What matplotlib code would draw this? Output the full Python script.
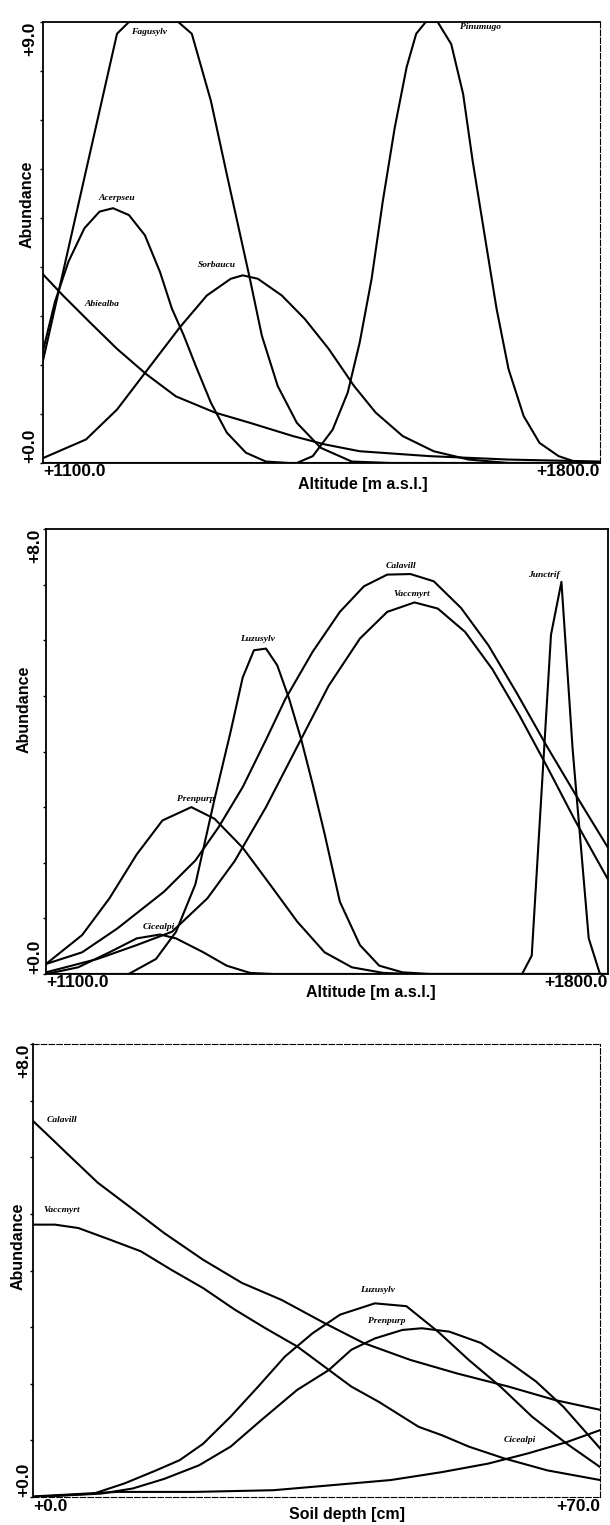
import numpy as np
import matplotlib.pyplot as plt
from matplotlib.ticker import MultipleLocator
from matplotlib.transforms import offset_copy

plt.rcParams['font.family'] = ['Liberation Sans', 'DejaVu Sans']

W, H = 610, 1525

# ---------------- panel 1: trees along altitude ----------------
fagusylv_x = [1100, 1193, 1208, 1270, 1287, 1311, 1331, 1346, 1360, 1375, 1395, 1419, 1449, 1488, 1537, 1800]
fagusylv_y = [2.09, 8.76, 9.0, 9.0, 8.76, 7.39, 5.89, 4.79, 3.76, 2.60, 1.57, 0.82, 0.31, 0.03, 0.0, 0.0]

acerpseu_x = [1100, 1115, 1132, 1152, 1171, 1188, 1208, 1228, 1247, 1262, 1277, 1292, 1311, 1331, 1355, 1380, 1409, 1800]
acerpseu_y = [2.29, 3.29, 4.11, 4.79, 5.13, 5.20, 5.06, 4.65, 3.90, 3.15, 2.60, 1.98, 1.23, 0.62, 0.21, 0.03, 0.0, 0.0]

abiealba_x = [1100, 1125, 1159, 1193, 1230, 1267, 1316, 1360, 1414, 1454, 1498, 1586, 1685, 1800]
abiealba_y = [3.85, 3.42, 2.87, 2.33, 1.81, 1.36, 1.03, 0.82, 0.55, 0.38, 0.24, 0.14, 0.07, 0.03]

sorbaucu_x = [1100, 1154, 1193, 1232, 1272, 1306, 1336, 1351, 1370, 1400, 1429, 1459, 1491, 1518, 1552, 1591, 1635, 1685, 1800]
sorbaucu_y = [0.10, 0.48, 1.09, 1.92, 2.77, 3.42, 3.76, 3.83, 3.76, 3.42, 2.94, 2.33, 1.57, 1.03, 0.55, 0.24, 0.07, 0.0, 0.0]

pinumugo_x = [1100, 1419, 1439, 1464, 1483, 1498, 1513, 1527, 1542, 1557, 1569, 1581, 1596, 1613, 1628, 1640, 1655, 1670, 1685, 1704, 1724, 1748, 1768, 1800]
pinumugo_y = [0.0, 0.0, 0.14, 0.68, 1.44, 2.46, 3.76, 5.34, 6.84, 8.08, 8.76, 9.0, 9.0, 8.55, 7.53, 6.16, 4.65, 3.15, 1.92, 0.96, 0.41, 0.14, 0.03, 0.0]

# ---------------- panel 2: herbs along altitude ----------------
calavill_alt_x = [1100, 1145, 1189, 1247, 1286, 1315, 1345, 1374, 1398, 1432, 1466, 1496, 1525, 1554, 1583, 1617, 1651, 1686, 1724, 1759, 1800]
calavill_alt_y = [0.18, 0.39, 0.82, 1.48, 2.04, 2.64, 3.36, 4.21, 4.94, 5.79, 6.51, 6.97, 7.18, 7.19, 7.06, 6.58, 5.91, 5.06, 4.09, 3.24, 2.27]

vaccmyrt_alt_x = [1100, 1164, 1213, 1257, 1301, 1335, 1374, 1413, 1452, 1491, 1525, 1559, 1588, 1622, 1656, 1690, 1724, 1759, 1800]
vaccmyrt_alt_y = [0.03, 0.27, 0.52, 0.76, 1.36, 2.03, 3.00, 4.09, 5.18, 6.03, 6.51, 6.68, 6.57, 6.15, 5.48, 4.64, 3.73, 2.76, 1.70]

prenpurp_alt_x = [1100, 1145, 1179, 1213, 1245, 1281, 1310, 1345, 1379, 1413, 1447, 1481, 1520, 1554, 1800]
prenpurp_alt_y = [0.18, 0.70, 1.36, 2.15, 2.76, 3.00, 2.79, 2.27, 1.61, 0.94, 0.39, 0.12, 0.02, 0.0, 0.0]

luzusylv_alt_x = [1100, 1203, 1237, 1262, 1286, 1310, 1330, 1345, 1359, 1374, 1388, 1403, 1418, 1432, 1447, 1466, 1491, 1515, 1544, 1578, 1800]
luzusylv_alt_y = [0.0, 0.0, 0.27, 0.76, 1.61, 3.15, 4.36, 5.33, 5.82, 5.85, 5.55, 4.94, 4.21, 3.42, 2.52, 1.30, 0.52, 0.15, 0.03, 0.0, 0.0]

cicealpi_alt_x = [1100, 1140, 1179, 1213, 1242, 1262, 1296, 1325, 1354, 1383, 1800]
cicealpi_alt_y = [0.0, 0.12, 0.39, 0.64, 0.71, 0.64, 0.39, 0.15, 0.02, 0.0, 0.0]

junctrif_x = [1100, 1693, 1705, 1729, 1742, 1756, 1776, 1790, 1800]
junctrif_y = [0.0, 0.0, 0.33, 6.10, 7.05, 4.03, 0.64, 0.0, 0.0]

# ---------------- panel 3: herbs along soil depth ----------------
calavill_soil_x = [0, 1.7, 4.1, 8.0, 11.8, 16.2, 21.0, 25.8, 30.7, 36.0, 40.8, 46.6, 52.4, 58.7, 64.5, 70]
calavill_soil_y = [6.64, 6.41, 6.08, 5.55, 5.14, 4.66, 4.19, 3.78, 3.48, 3.07, 2.72, 2.42, 2.18, 1.95, 1.71, 1.54]

vaccmyrt_soil_x = [0, 2.7, 5.6, 9.4, 13.3, 17.1, 21.0, 24.9, 28.7, 32.6, 36.0, 39.3, 42.7, 47.6, 50.5, 53.8, 58.2, 63.5, 70]
vaccmyrt_soil_y = [4.81, 4.81, 4.75, 4.55, 4.34, 4.01, 3.69, 3.31, 2.98, 2.66, 2.30, 1.95, 1.68, 1.24, 1.09, 0.89, 0.68, 0.47, 0.30]

luzusylv_soil_x = [0, 7.5, 11.3, 15.2, 18.1, 21.0, 24.4, 27.8, 31.1, 34.5, 37.9, 42.2, 46.1, 50.0, 53.8, 57.7, 61.6, 65.9, 70]
luzusylv_soil_y = [0.0, 0.06, 0.24, 0.47, 0.65, 0.94, 1.42, 1.95, 2.48, 2.89, 3.22, 3.42, 3.37, 2.92, 2.42, 1.95, 1.42, 0.94, 0.53]

prenpurp_soil_x = [0, 8.4, 12.3, 16.2, 20.5, 24.4, 28.2, 32.6, 36.5, 39.3, 42.2, 45.6, 48.0, 51.4, 55.3, 58.7, 62.1, 65.5, 70]
prenpurp_soil_y = [0.0, 0.06, 0.15, 0.32, 0.56, 0.89, 1.36, 1.89, 2.24, 2.60, 2.80, 2.95, 2.98, 2.92, 2.72, 2.39, 2.04, 1.59, 0.86]

cicealpi_soil_x = [0, 10.4, 20.0, 29.7, 37.0, 44.2, 50.5, 56.2, 61.1, 65.9, 70]
cicealpi_soil_y = [0.01, 0.09, 0.09, 0.12, 0.21, 0.30, 0.44, 0.59, 0.77, 0.97, 1.18]

# species labels: (name, x, y)
labels_1 = [("Fagusylv", 1233, 8.79), ("Pinumugo", 1650, 8.90), ("Acerpseu", 1193, 5.41),
            ("Sorbaucu", 1319, 4.04), ("Abiealba", 1174, 3.25)]
labels_2 = [("Calavill", 1542, 7.33), ("Vaccmyrt", 1556, 6.83), ("Junctrif", 1720, 7.17),
            ("Luzusylv", 1364, 6.03), ("Prenpurp", 1286, 3.15), ("Cicealpi", 1240, 0.85)]
labels_3 = [("Calavill", 3.6, 6.66), ("Vaccmyrt", 3.6, 5.06), ("Luzusylv", 42.5, 3.66),
            ("Prenpurp", 43.7, 3.10), ("Cicealpi", 60.1, 1.00)]


def box(l, t, r, b):
    # pixel box -> figure fraction
    return [l / W, 1 - b / H, (r - l) / W, (b - t) / H]


def panel(ax, curves, labels, xlim, ymax, xticklabels, xlabel, xlab_fx,
          tick_dy, xlab_dy, ypad, ylab_dx, ylab_fy, dashed=()):
    for x, y in curves:
        ax.plot(x, y, color='black', lw=1.5)
    for name, lx, ly in labels:
        ax.text(lx, ly, name, ha='center', va='center', fontsize=6.8,
                family='Liberation Serif', style='italic', fontweight='bold')
    ax.set_xlim(*xlim)
    ax.set_ylim(0, ymax)

    ax.set_xticks(xlim, xticklabels, fontsize=12.5, fontweight='bold')
    ax.tick_params(axis='x', length=0, pad=tick_dy)
    xl = ax.get_xticklabels()
    xl[0].set_ha('left')
    xl[1].set_ha('right')

    ax.set_yticks([0, ymax], ['+0.0', '+%.1f' % ymax], fontsize=12.5,
                  fontweight='bold', rotation=90)
    ax.yaxis.set_minor_locator(MultipleLocator(1))
    ax.tick_params(axis='y', which='both', length=2, width=1, direction='out',
                   pad=ypad)
    yl = ax.get_yticklabels()
    yl[0].set_va('bottom')
    yl[1].set_va('top')

    tr = offset_copy(ax.transAxes, fig=ax.figure, y=-xlab_dy, units='dots')
    ax.text(xlab_fx, 0, xlabel, transform=tr, ha='center', va='center',
            fontsize=11.5, fontweight='bold')
    tr = offset_copy(ax.transAxes, fig=ax.figure, x=-ylab_dx, units='dots')
    ax.text(0, ylab_fy, 'Abundance', transform=tr, ha='center', va='center',
            rotation=90, fontsize=11.5, fontweight='bold')

    for s in ax.spines.values():
        s.set_linewidth(1.3)
    for s in dashed:
        ax.spines[s].set_linestyle((0, (5, 2)))
        ax.spines[s].set_linewidth(0.8)


fig = plt.figure(figsize=(W / 100, H / 100), dpi=100)

ax1 = fig.add_axes(box(43, 22, 600, 463))
panel(ax1,
      [(fagusylv_x, fagusylv_y), (acerpseu_x, acerpseu_y), (abiealba_x, abiealba_y),
       (sorbaucu_x, sorbaucu_y), (pinumugo_x, pinumugo_y)],
      labels_1, (1100, 1800), 9.0, ['+1100.0', '+1800.0'], 'Altitude [m a.s.l.]', 0.574,
      tick_dy=1.0, xlab_dy=22, ypad=1.8, ylab_dx=16, ylab_fy=0.586, dashed=('right',))

ax2 = fig.add_axes(box(46, 529, 608, 974))
panel(ax2,
      [(calavill_alt_x, calavill_alt_y), (vaccmyrt_alt_x, vaccmyrt_alt_y),
       (prenpurp_alt_x, prenpurp_alt_y), (luzusylv_alt_x, luzusylv_alt_y),
       (cicealpi_alt_x, cicealpi_alt_y), (junctrif_x, junctrif_y)],
      labels_2, (1100, 1800), 8.0, ['+1100.0', '+1800.0'], 'Altitude [m a.s.l.]', 0.578,
      tick_dy=1.0, xlab_dy=19, ypad=0.4, ylab_dx=22, ylab_fy=0.594)

ax3 = fig.add_axes(box(33, 1044, 600, 1497))
panel(ax3,
      [(calavill_soil_x, calavill_soil_y), (vaccmyrt_soil_x, vaccmyrt_soil_y),
       (luzusylv_soil_x, luzusylv_soil_y), (prenpurp_soil_x, prenpurp_soil_y),
       (cicealpi_soil_x, cicealpi_soil_y)],
      labels_3, (0, 70), 8.0, ['+0.0', '+70.0'], 'Soil depth [cm]', 0.554,
      tick_dy=1.5, xlab_dy=18, ypad=-0.5, ylab_dx=15, ylab_fy=0.554,
      dashed=('right', 'top', 'bottom'))

fig.savefig('out.png', dpi=100)
